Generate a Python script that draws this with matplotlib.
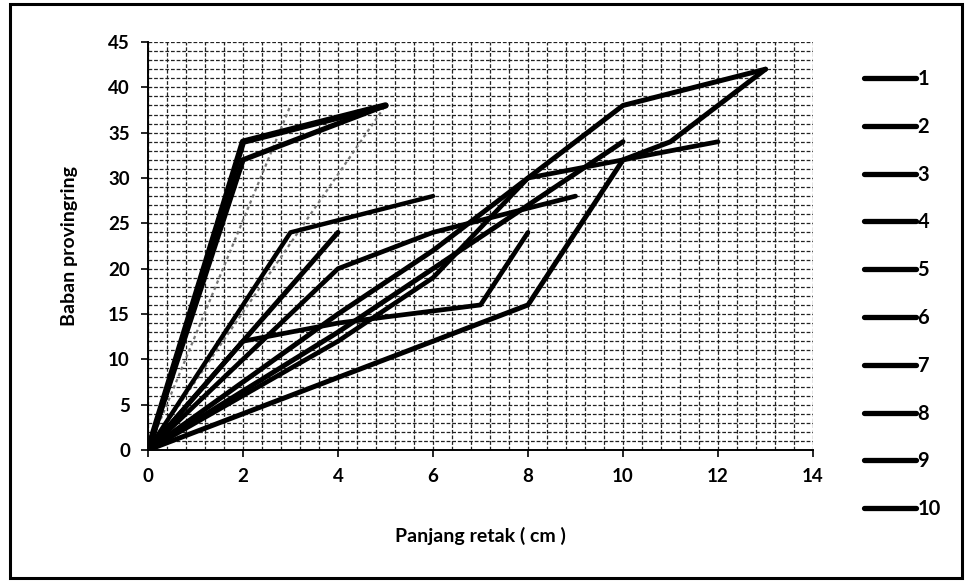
import matplotlib
matplotlib.use("Agg")
import matplotlib.pyplot as plt
from matplotlib.patches import Rectangle
import numpy as np

# Crack length (cm) vs. proving-ring load for ten specimens
series_names = ["1", "2", "3", "4", "5", "6", "7", "8", "9", "10"]
x1, y1 = [0, 2, 5], [0, 34, 38]
x2, y2 = [0, 2, 5], [0, 32, 38]
x3, y3 = [0, 3, 6], [0, 24, 28]
x4, y4 = [0, 4], [0, 24]
x5, y5 = [0, 4, 6, 9], [0, 20, 24, 28]
x6, y6 = [0, 2, 4, 7, 8], [0, 12, 14, 16, 24]
x7, y7 = [0, 4, 6, 8, 10], [0, 13, 20, 27, 34]
x8, y8 = [0, 4, 6, 8, 10, 12], [0, 12, 19, 30, 32, 34]
x9, y9 = [0, 4, 6, 8, 10, 13], [0, 15, 22, 30, 38, 42]
x10, y10 = [0, 8, 10, 11, 13], [0, 16, 32, 34, 42]

# faint guide lines
guide_a_x, guide_a_y = [0, 5], [0, 38]
guide_b_x, guide_b_y = [0, 3], [0, 38]

xs = [x1, x2, x3, x4, x5, x6, x7, x8, x9, x10]
ys = [y1, y2, y3, y4, y5, y6, y7, y8, y9, y10]
widths = [4.6, 3.8, 3.2, 3.6, 3.4, 3.4, 3.6, 3.4, 3.6, 3.6]

x_ticks = [0, 2, 4, 6, 8, 10, 12, 14]
y_ticks = [0, 5, 10, 15, 20, 25, 30, 35, 40, 45]

FONT = "Lato"

fig = plt.figure(figsize=(9.69, 5.85), dpi=100)
ax = fig.add_axes([148 / 969, 1 - 450 / 585, (813 - 148) / 969, (450 - 42) / 585])

ax.set_xlim(0, 14)
ax.set_ylim(0, 45)
ax.set_xticks(x_ticks)
ax.set_yticks(y_ticks)
ax.set_xticks(np.arange(0, 14.01, 0.4), minor=True)
ax.set_yticks(np.arange(0, 45.01, 1), minor=True)
ax.tick_params(which="minor", length=0)
ax.tick_params(which="major", direction="out", length=5, width=1.2, colors="black",
               labelsize=13.5, pad=8)
for lab in ax.get_xticklabels() + ax.get_yticklabels():
    lab.set_fontfamily(FONT)
    lab.set_fontweight("bold")

ax.grid(which="both", color="#222222", linestyle=(0, (3, 1.5)), linewidth=0.9)
ax.set_axisbelow(True)
for side in ("top", "right"):
    ax.spines[side].set_visible(False)
for side in ("left", "bottom"):
    ax.spines[side].set_linewidth(1.4)
    ax.spines[side].set_color("black")

ax.plot(guide_a_x, guide_a_y, color="#777777", linestyle=(0, (1.5, 1.5)), linewidth=1.6, zorder=2)
ax.plot(guide_b_x, guide_b_y, color="#777777", linestyle=(0, (1.5, 1.5)), linewidth=1.6, zorder=2)

handles = []
for name, xv, yv, lw in zip(series_names, xs, ys, widths):
    h, = ax.plot(xv, yv, color="black", linewidth=lw, solid_capstyle="round",
                 solid_joinstyle="round", label=name, zorder=3)
    handles.append(h)

ax.set_xlabel("Panjang retak ( cm )", fontfamily=FONT, fontweight="bold", fontsize=14, labelpad=30)
ax.set_ylabel("Baban provingring", fontfamily=FONT, fontweight="bold", fontsize=14, labelpad=22)

leg = fig.legend(handles=handles, loc="upper left", bbox_to_anchor=(846 / 969, 1 - 51 / 585),
                 frameon=False, handlelength=2.6, handletextpad=0.05, labelspacing=1.38,
                 prop={"family": FONT, "weight": "bold", "size": 14.5})
for line in leg.get_lines():
    line.set_linewidth(3.8)

fig.patches.append(Rectangle((10 / 969, 1 - 578 / 585), (962 - 10) / 969, (578 - 4) / 585,
                             transform=fig.transFigure, fill=False, edgecolor="black",
                             linewidth=2.2))

fig.savefig("out.png", dpi=100)
